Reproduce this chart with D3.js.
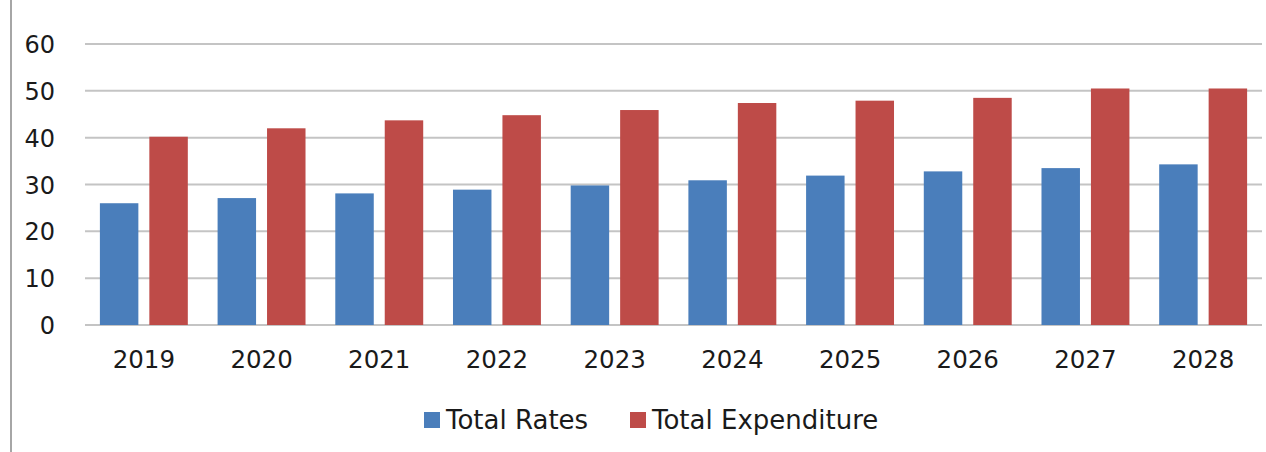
<!DOCTYPE html>
<html>
<head>
<meta charset="utf-8">
<script src="https://cdn.jsdelivr.net/npm/d3@7"></script>
<style>
    body { margin: 0; background: #fff; }
    text { font-family: "DejaVu Sans", sans-serif; fill: #1a1a1a; }
</style>
</head>
<body>
<div id="chart"></div>
<script>
var years = ["2019", "2020", "2021", "2022", "2023", "2024", "2025", "2026", "2027", "2028"];
var totalRates = [26, 27.1, 28.1, 28.9, 29.8, 30.9, 31.9, 32.8, 33.5, 34.3];
var totalExpenditure = [40.2, 42, 43.7, 44.8, 45.9, 47.4, 47.9, 48.5, 50.5, 50.5];
var seriesNames = ["Total Rates", "Total Expenditure"];
var yTicks = [0, 10, 20, 30, 40, 50, 60];

var colors = ["#4a7ebb", "#be4b48"];

var rows = years.map(function (y, i) {
    return { year: y, values: [totalRates[i], totalExpenditure[i]] };
});

// set the dimensions and margins of the graph
var margin = { top: 44, right: 4, bottom: 127, left: 85 },
    width = 1266 - margin.left - margin.right,
    height = 452 - margin.top - margin.bottom;

var svg = d3.select("#chart").append("svg")
    .attr("width", 1266)
    .attr("height", 452);

// thin frame line on the left edge
svg.append("line")
    .attr("x1", 11).attr("x2", 11)
    .attr("y1", 0).attr("y2", 452)
    .attr("stroke", "#a6a6a6")
    .attr("stroke-width", 2);

var g = svg.append("g")
    .attr("transform", "translate(" + margin.left + "," + margin.top + ")");

// set the ranges
var x0 = d3.scaleBand()
    .domain(years)
    .range([0, width])
    .paddingInner(0.253)
    .paddingOuter(0.1265);

var x1 = d3.scaleBand()
    .domain([0, 1])
    .range([0, x0.bandwidth()])
    .paddingInner(0.222);

var y = d3.scaleLinear()
    .domain([0, 60])
    .range([height, 0]);

// gridlines
g.selectAll(".grid")
    .data(yTicks)
    .enter().append("line")
    .attr("class", "grid")
    .attr("x1", 0)
    .attr("x2", width)
    .attr("y1", function (d) { return y(d); })
    .attr("y2", function (d) { return y(d); })
    .attr("stroke", "#c4c4c4")
    .attr("stroke-width", 2);

// the bars
var groups = g.selectAll(".year")
    .data(rows)
    .enter().append("g")
    .attr("class", "year")
    .attr("transform", function (d) { return "translate(" + x0(d.year) + ",0)"; });

groups.selectAll("rect")
    .data(function (d) { return d.values; })
    .enter().append("rect")
    .attr("x", function (d, i) { return x1(i); })
    .attr("y", function (d) { return y(d); })
    .attr("width", x1.bandwidth())
    .attr("height", function (d) { return height - y(d); })
    .attr("fill", function (d, i) { return colors[i]; });

// y axis
var yAxis = g.append("g")
    .call(d3.axisLeft(y).tickValues(yTicks).tickSize(0).tickPadding(30));
yAxis.select(".domain").remove();
yAxis.selectAll("text")
    .style("font-size", "24px")
    .attr("dy", "0.36em");

// x axis
var xAxis = g.append("g")
    .attr("transform", "translate(0," + height + ")")
    .call(d3.axisBottom(x0).tickSize(0).tickPadding(26));
xAxis.select(".domain").remove();
xAxis.selectAll("text")
    .style("font-size", "24.5px");

// legend
var legend = svg.append("g")
    .attr("transform", "translate(424,420)");

var legendX = [0, 206];
seriesNames.forEach(function (name, i) {
    legend.append("rect")
        .attr("x", legendX[i])
        .attr("y", -8)
        .attr("width", 16)
        .attr("height", 16)
        .attr("fill", colors[i]);
    legend.append("text")
        .attr("x", legendX[i] + 22)
        .attr("y", 0)
        .attr("dy", "0.36em")
        .style("font-size", "26px")
        .text(name);
});
</script>
</body>
</html>
